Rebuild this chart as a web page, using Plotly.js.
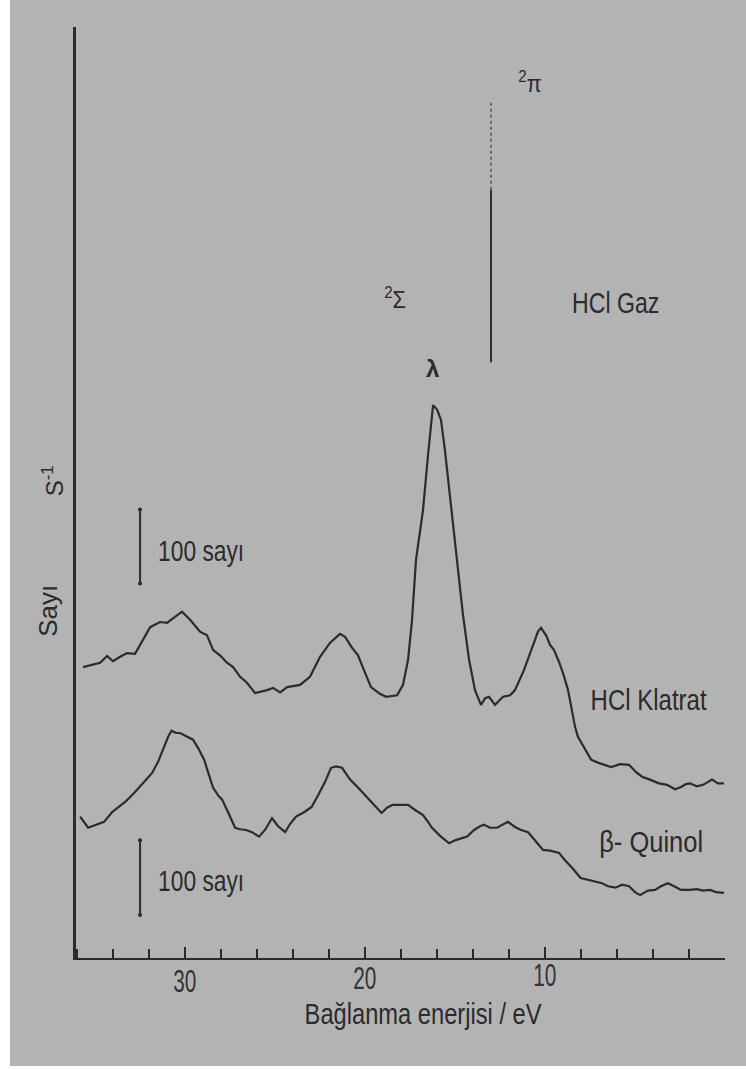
<!DOCTYPE html>
<html>
<head>
<meta charset="utf-8">
<script src="https://cdn.plot.ly/plotly-3.0.1.min.js"></script>
<style>
html,body{margin:0;padding:0;background:#ffffff;}
#chart{position:absolute;left:10px;top:0;width:736px;height:1066px;}
</style>
</head>
<body>
<div id="chart"></div>
<script>
// Binding energy (eV) and counts
const klatratEnergy = [35.67,35.17,34.72,34.33,34.0,33.61,33.22,32.78,31.94,31.39,31.0,30.67,30.17,29.72,29.17,28.78,28.44,28.06,27.67,27.33,26.94,26.56,26.11,25.44,25.11,24.72,24.33,23.61,23.06,22.5,21.94,21.39,21.11,20.72,20.39,20.06,19.67,19.17,18.83,18.22,17.89,17.61,17.39,17.17,16.78,16.5,16.22,16.0,15.78,15.56,15.33,15.11,14.83,14.56,14.22,13.89,13.56,13.33,13.11,12.78,12.33,11.94,11.67,11.39,11.17,10.72,10.39,10.22,9.94,9.72,9.5,9.22,9.0,8.72,8.5,8.33,8.17,7.83,7.44,7.06,6.67,6.33,5.83,5.33,4.94,4.61,4.17,3.67,3.22,2.78,2.44,2.17,1.94,1.56,1.22,0.94,0.72,0.39,0.06];
const klatratCounts = [393,396,399,408,401,407,412,411,447,454,453,459,468,457,441,436,416,409,399,393,380,372,358,362,365,359,366,369,380,407,426,438,434,419,409,389,366,357,353,355,369,403,457,538,605,680,747,741,727,686,636,592,528,464,403,362,342,351,353,342,353,355,362,376,389,419,441,446,436,423,416,400,385,362,335,312,299,284,268,264,261,258,262,261,251,245,241,236,234,228,231,235,236,232,234,238,241,236,236];

const quinolEnergy = [35.83,35.39,34.94,34.5,34.06,33.67,33.28,32.83,32.33,31.83,31.5,31.22,30.94,30.75,30.5,30.28,29.89,29.56,29.28,28.94,28.67,28.44,28.17,27.94,27.61,27.22,26.94,26.61,26.28,25.89,25.56,25.17,24.83,24.44,24.17,23.83,23.39,22.97,22.61,22.22,21.89,21.61,21.28,20.83,20.42,20.0,19.61,19.08,18.78,18.47,18.06,17.61,17.22,16.78,16.5,16.28,15.83,15.33,15.0,14.67,14.33,13.94,13.61,13.39,13.06,12.67,12.33,12.06,11.67,11.33,10.94,10.56,10.11,9.72,9.22,8.89,8.5,8.02,7.5,6.83,6.5,6.08,5.72,5.33,5.0,4.72,4.28,3.89,3.56,3.17,2.83,2.44,1.94,1.56,1.22,0.83,0.5,0.06];
const quinolCounts = [191,176,180,184,197,204,212,223,236,250,265,281,299,307,304,304,299,295,284,268,247,230,220,214,197,176,174,173,170,164,173,189,178,170,181,191,197,204,220,238,257,259,257,241,231,220,211,196,203,207,207,207,200,193,184,176,165,155,159,161,164,173,178,180,176,176,180,184,177,173,170,159,146,145,142,132,122,108,105,101,97,95,99,97,89,85,91,92,97,101,97,92,92,93,91,92,89,88];

// HCl gas line (2Π): energy and counts of the stick
const gazEnergy = [13.0, 13.0];
const gazSolid = [805, 1038];
const gazDashed = [1038, 1157];

// 100-count scale bars
const scaleEnergy = [32.5, 32.5];
const scaleUpper = [506, 606];
const scaleLower = [58, 159];

const tickLabels = ['30', '20', '10'];
const tickValues = [30, 20, 10];
const tickShift = [-3, 0, 3];   // follows the slightly tilted scan baseline

const ink = '#2b2b2b';
const font = '"Liberation Sans", Arial, sans-serif';

const traces = [
  {x: klatratEnergy, y: klatratCounts, mode: 'lines', line: {color: ink, width: 2.2}, hoverinfo: 'skip'},
  {x: quinolEnergy, y: quinolCounts, mode: 'lines', line: {color: ink, width: 2.2}, hoverinfo: 'skip'},
  {x: gazEnergy, y: gazSolid, mode: 'lines', line: {color: ink, width: 2}},
  {x: gazEnergy, y: gazDashed, mode: 'lines', line: {color: '#555', width: 1.5, dash: 'dot'}},
  {x: scaleEnergy, y: scaleUpper, mode: 'lines+markers', line: {color: ink, width: 2}, marker: {color: ink, size: 4}},
  {x: scaleEnergy, y: scaleLower, mode: 'lines+markers', line: {color: ink, width: 2}, marker: {color: ink, size: 4}}
];

const annotations = [];
const scales = [];
function add(a, s) { annotations.push(a); scales.push(s); }
const ann = (x, y, text, size, extra) => Object.assign({x: x, y: y, xref: 'x', yref: 'y', text: text, showarrow: false, font: {family: font, size: size, color: ink}}, extra || {});

add(ann(6.1, 886, 'HCl Gaz', 30), 0.77);
add(ann(4.2, 349, 'HCl Klatrat', 30), 0.8);
add(ann(4.1, 158, 'β- Quinol', 30), 0.85);
add(ann(31.6, 551, '100 sayı', 30, {xanchor: 'left'}), 0.76);
add(ann(31.6, 105, '100 sayı', 30, {xanchor: 'left'}), 0.76);
add(ann(18.33, 892, '<sup>2</sup>Σ', 24), 0.9);
add(ann(10.83, 1184, '<sup>2</sup>π', 24), 0.9);
add(ann(16.28, 797, '<b>λ</b>', 24), 1);
tickValues.forEach((v, i) => add({x: v, y: 0, xref: 'x', yref: 'paper', yanchor: 'top', yshift: tickShift[i], text: tickLabels[i], showarrow: false, font: {family: font, size: 32, color: '#333'}}, 0.65));
add({xref: 'paper', yref: 'paper', x: 0.535, y: 0, yshift: -55, text: 'Bağlanma enerjisi / eV', showarrow: false, yanchor: 'middle', font: {family: font, size: 30, color: ink}}, 0.79);
add({xref: 'paper', yref: 'paper', x: 0, xshift: -28, xanchor: 'center', y: 0.373, text: 'Sayı', textangle: -90, showarrow: false, font: {family: font, size: 26, color: ink}}, 1);
add({xref: 'paper', yref: 'paper', x: 0, xshift: -23, xanchor: 'center', y: 0.512, text: 'S<sup>-1</sup>', textangle: -90, showarrow: false, font: {family: font, size: 24, color: ink}}, 1);

const layout = {
  width: 736, height: 1066,
  paper_bgcolor: '#b3b3b3', plot_bgcolor: '#b3b3b3',
  margin: {l: 66, r: 21, t: 27, b: 108},
  showlegend: false,
  xaxis: {
    range: [36.06, 0], showgrid: false, zeroline: false,
    showline: true, linecolor: ink, linewidth: 2,
    tickmode: 'array', tickvals: tickValues, showticklabels: false,
    ticks: 'inside', ticklen: 11, tickwidth: 1.5, tickcolor: ink,
    minor: {dtick: 2, ticks: 'inside', ticklen: 9, tickwidth: 1.5, tickcolor: ink, showgrid: false}
  },
  yaxis: {
    range: [0, 1258], showgrid: false, zeroline: false,
    showline: true, linecolor: ink, linewidth: 3,
    showticklabels: false, ticks: ''
  },
  annotations: annotations
};

Plotly.newPlot('chart', traces, layout, {staticPlot: true}).then(gd => {
  const groups = gd.querySelectorAll('g.annotation');
  groups.forEach((g, i) => {
    const s = scales[i];
    if (s === undefined || s === 1) return;
    const t = g.querySelector('text.annotation-text');
    if (!t) return;
    t.style.transformBox = 'fill-box';
    t.style.transformOrigin = (annotations[i].xanchor === 'left') ? 'left center' : 'center';
    t.style.transform = 'scaleX(' + s + ')';
  });
});
</script>
</body>
</html>
